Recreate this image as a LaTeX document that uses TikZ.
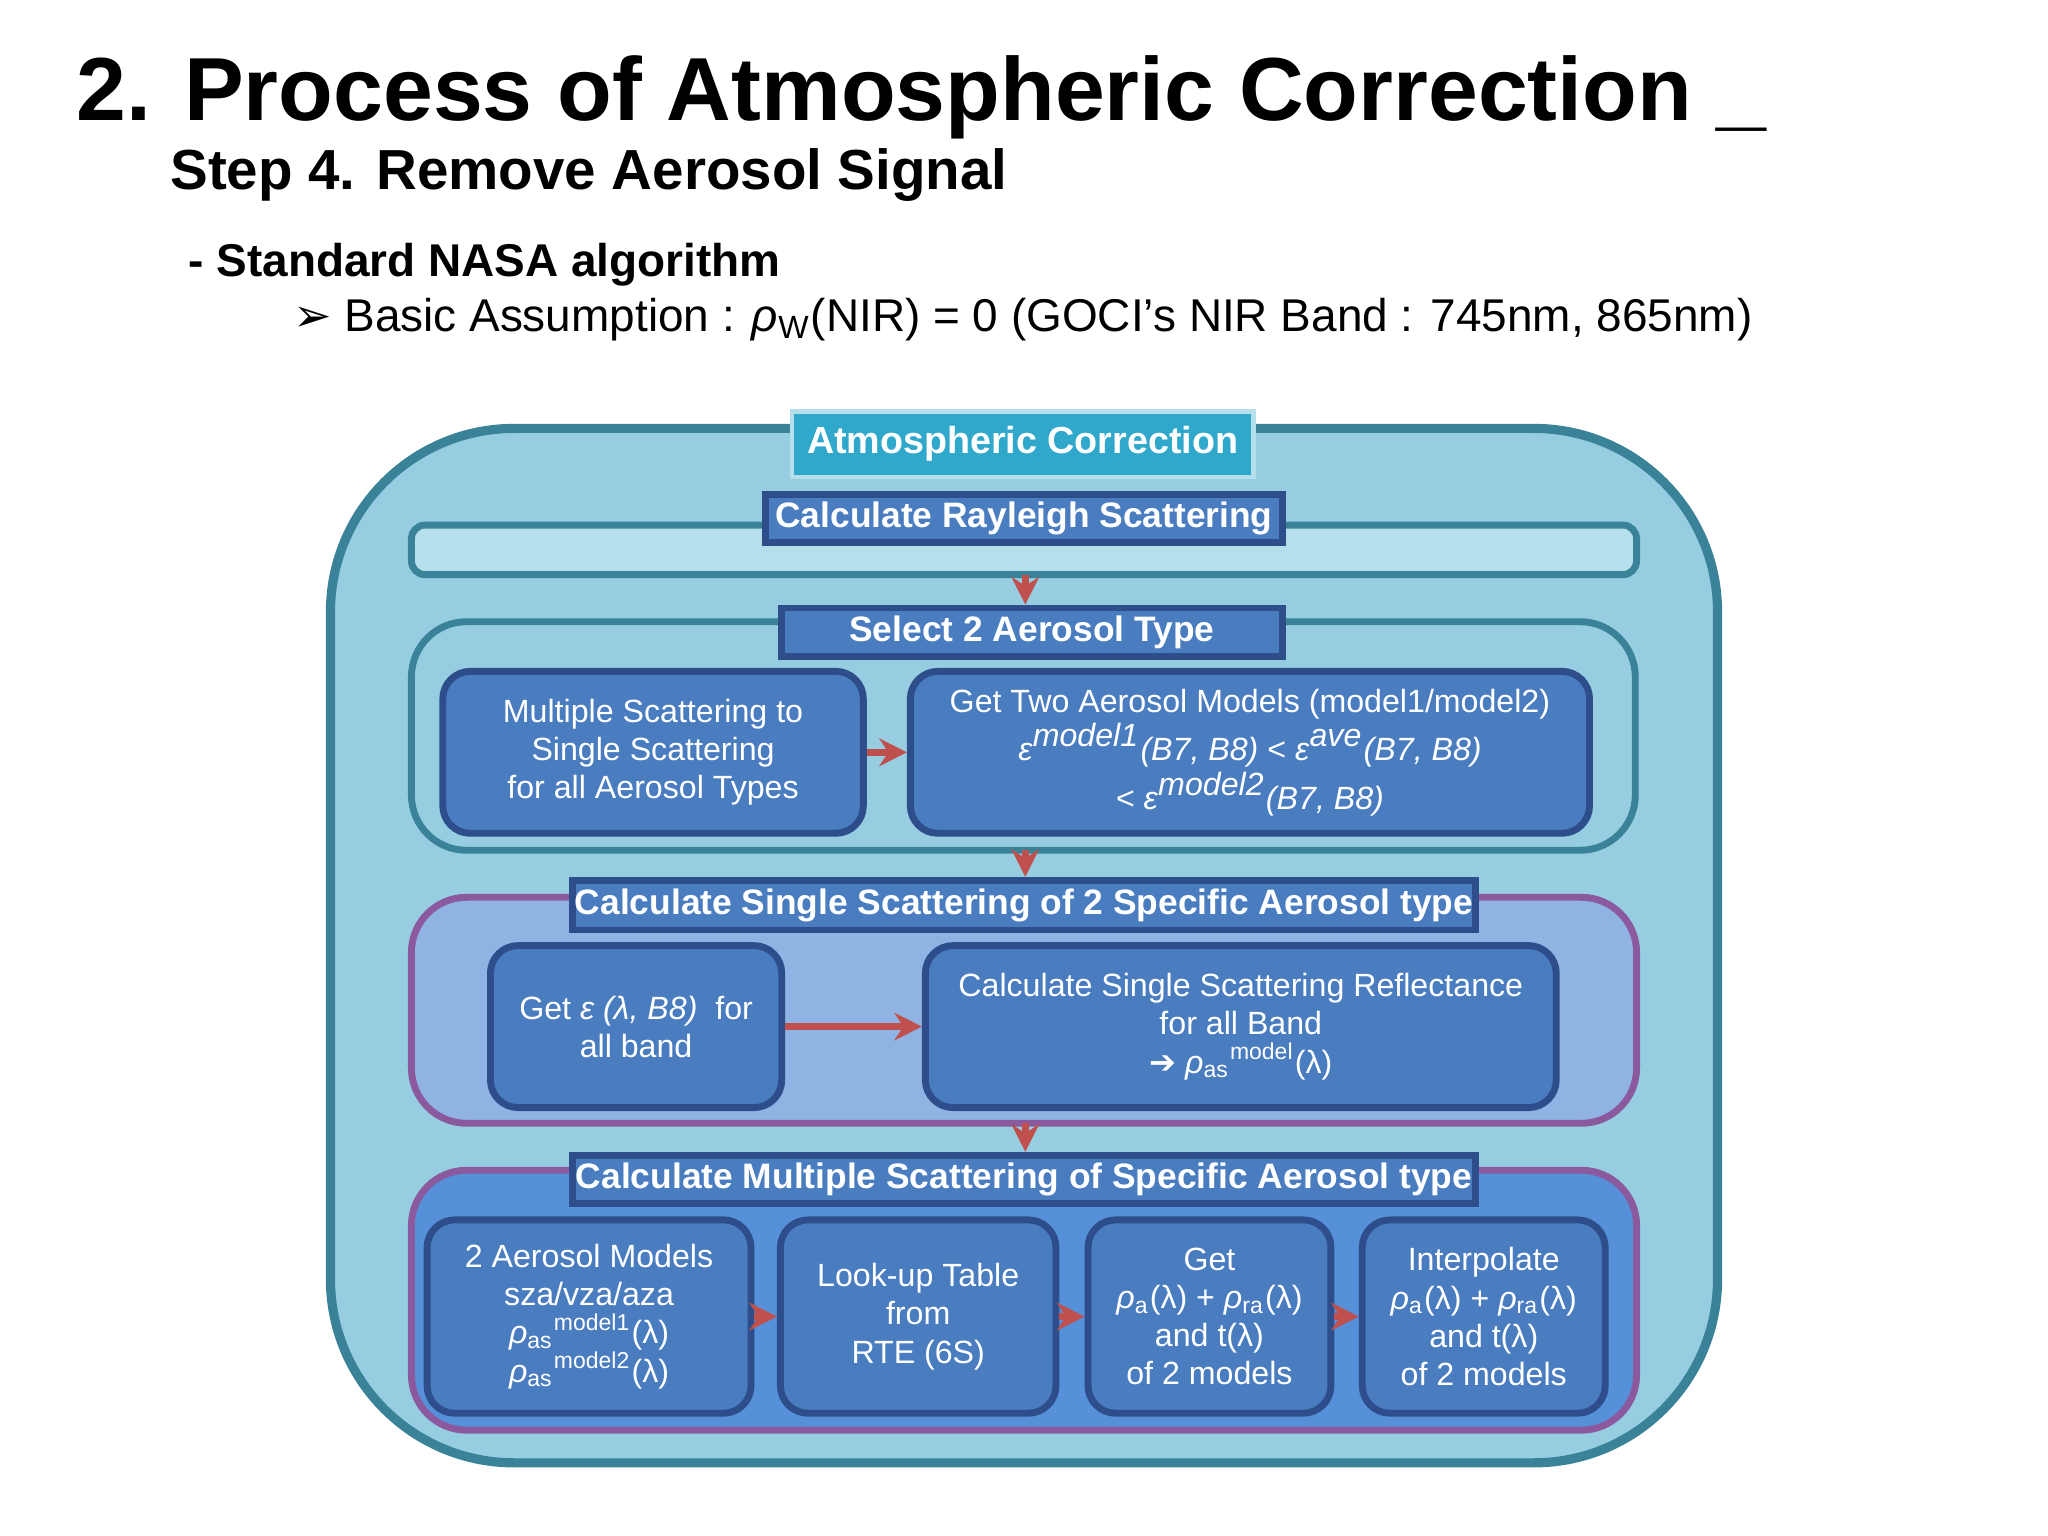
\documentclass[tikz,border=0pt]{standalone}
\usepackage{fontspec}
\setmainfont{Liberation Sans}
\newfontfamily\djv{DejaVu Sans}
\usetikzlibrary{arrows.meta}
\definecolor{outerfill}{HTML}{96CDE0}
\definecolor{teal}{HTML}{3A8298}
\definecolor{tab}{HTML}{2FA8CC}
\definecolor{band}{HTML}{B5DFEB}
\definecolor{boxb}{HTML}{4A7CC0}
\definecolor{boxd}{HTML}{2D4E8A}
\definecolor{ssfill}{HTML}{8FB4E3}
\definecolor{msfill}{HTML}{5590D8}
\definecolor{purp}{HTML}{8B5A9E}
\definecolor{arr}{HTML}{C0504D}
\tikzset{
 lbl/.style={draw=boxd,fill=boxb,line width=1.5pt,text=white,font=\bfseries\fontsize{7.7}{9}\selectfont,inner sep=0pt},
 ibox/.style={draw=boxd,fill=boxb,line width=1.5pt,rounded corners=6pt,text=white,font=\fontsize{7}{8.3}\selectfont,align=center,inner sep=0pt},
 ra/.style={draw=arr,line width=1.4pt,-{Stealth[length=6pt,width=6pt]}}
}
\newcommand{\rh}{\textit{ρ}}
\begin{document}
\begin{tikzpicture}[x=0.01cm,y=-0.01cm]
\useasboundingbox (0,0) rectangle (1568,1176);
\node[anchor=base west,font=\bfseries\fontsize{19.5}{22}\selectfont] (t1) at (46,92) {2. Process of Atmospheric Correction \_};
\node[anchor=base west,font=\bfseries\fontsize{12.3}{14}\selectfont] (t2) at (118,145) {Step 4. Remove Aerosol Signal};
\node[anchor=base west,font=\bfseries\fontsize{10}{12}\selectfont] (t3) at (132,212) {- Standard NASA algorithm};
\node[anchor=base west,font=\fontsize{10}{12}\selectfont] (t4) at (212,254) {{\djv ➢} Basic Assumption : \rh$_{\mathrm{W}}$(NIR) = 0 (GOCI’s NIR Band : 745nm, 865nm)};
% outer
\draw[teal,fill=outerfill,line width=2pt,rounded corners=40pt] (253,328) rectangle (1315,1120);
\node[fill=tab,draw=band,line width=1pt,minimum width=347*0.01cm,minimum height=48*0.01cm,text=white,font=\bfseries\fontsize{8.2}{10}\selectfont] (tab) at (783,340) {Atmospheric Correction};
% rayleigh
\draw[teal,fill=band,line width=1.5pt,rounded corners=3pt] (315,402) rectangle (1253,440);
\node[lbl,minimum width=396*0.01cm,minimum height=37*0.01cm] (ray) at (784,397) {Calculate Rayleigh Scattering};
% select
\draw[teal,fill=outerfill,line width=1.5pt,rounded corners=12pt] (315,476) rectangle (1252,651);
\node[lbl,minimum width=384*0.01cm,minimum height=37*0.01cm] (sel) at (790,484) {Select 2 Aerosol Type};
\node[ibox,minimum width=322*0.01cm,minimum height=124*0.01cm] (A) at (500,576) {Multiple Scattering to\\Single Scattering\\for all Aerosol Types};
\node[ibox,minimum width=520*0.01cm,minimum height=124*0.01cm] (B) at (957,576) {Get Two Aerosol Models (model1/model2)\\\textit{ε}$^{\textit{\scriptsize model1}}$\textit{(B7, B8)} < \textit{ε}$^{\textit{\scriptsize ave}}$\textit{(B7, B8)}\\< \textit{ε}$^{\textit{\scriptsize model2}}$\textit{(B7, B8)}};
% single
\draw[purp,fill=ssfill,line width=1.5pt,rounded corners=12pt] (315,687) rectangle (1253,860);
\node[lbl,minimum width=692*0.01cm,minimum height=38*0.01cm] (ss) at (784,693) {Calculate Single Scattering of 2 Specific Aerosol type};
\node[ibox,minimum width=223*0.01cm,minimum height=124*0.01cm] (C) at (487,786) {Get \textit{ε (λ, B8)}\ \ for\\all band};
\node[ibox,minimum width=483*0.01cm,minimum height=124*0.01cm] (D) at (950,786) {Calculate Single Scattering Reflectance\\for all Band\\{\djv ➔} \rh$_{\mathrm{as}}{}^{\mathrm{model}}$(λ)};
% multiple
\draw[purp,fill=msfill,line width=1.5pt,rounded corners=12pt] (315,896) rectangle (1253,1095);
\node[lbl,minimum width=692*0.01cm,minimum height=37*0.01cm] (ms) at (784,903) {Calculate Multiple Scattering of Specific Aerosol type};
\node[ibox,minimum width=248*0.01cm,minimum height=148*0.01cm] (E) at (451,1008) {2 Aerosol Models\\sza/vza/aza\\\rh$_{\mathrm{as}}{}^{\mathrm{model1}}$(λ)\\\rh$_{\mathrm{as}}{}^{\mathrm{model2}}$(λ)};
\node[ibox,minimum width=211*0.01cm,minimum height=148*0.01cm] (F) at (703,1008) {Look-up Table\\from\\RTE (6S)};
\node[ibox,minimum width=186*0.01cm,minimum height=148*0.01cm] (G) at (926,1008) {Get\\\rh$_{\mathrm{a}}$(λ) + \rh$_{\mathrm{ra}}$(λ)\\and t(λ)\\of 2 models};
\node[ibox,minimum width=186*0.01cm,minimum height=148*0.01cm] (H) at (1136,1008) {Interpolate\\\rh$_{\mathrm{a}}$(λ) + \rh$_{\mathrm{ra}}$(λ)\\and t(λ)\\of 2 models};
% arrows
\coordinate (r1) at (785,440);
\draw[ra] (r1) -- (sel.north -| r1);
\draw[ra] (A) -- (B);
\coordinate (r2) at (785,651);
\draw[ra] (r2) -- (ss.north -| r2);
\draw[ra] (C) -- (D);
\coordinate (r3) at (785,860);
\draw[ra] (r3) -- (ms.north -| r3);
\draw[ra] (E) -- (F);
\draw[ra] (F) -- (G);
\draw[ra] (G) -- (H);
\end{tikzpicture}
\end{document}
